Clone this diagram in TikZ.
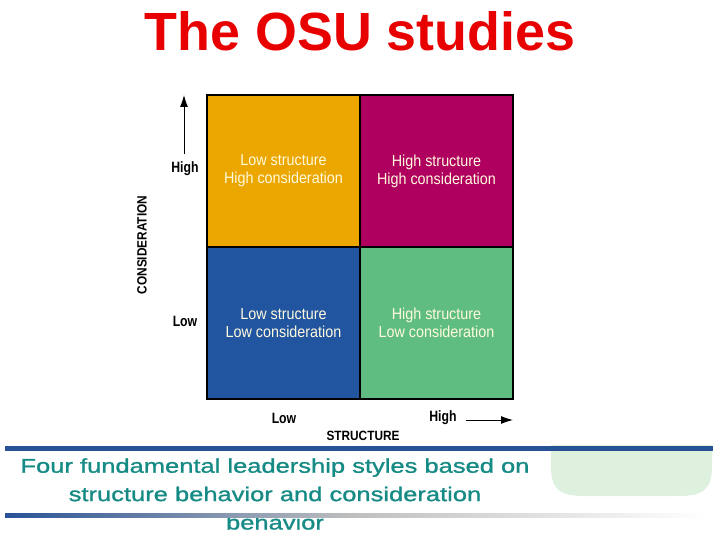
\documentclass[tikz,border=0pt]{standalone}
\usepackage{fontspec}
\setmainfont{Liberation Sans}
\newfontfamily\cellfont[FakeStretch=0.9]{Liberation Sans}
\newfontfamily\axisfont[FakeStretch=0.82]{Liberation Sans}
\newfontfamily\namefont[FakeStretch=0.88]{Liberation Sans}
\newfontfamily\capfont[FakeStretch=1.28,FakeBold=1.2]{Liberation Sans}
\usetikzlibrary{arrows.meta}
\definecolor{titlecol}{RGB}{232,0,0}
\definecolor{lscol}{RGB}{235,167,0}
\definecolor{hhcol}{RGB}{176,0,95}
\definecolor{llcol}{RGB}{34,85,160}
\definecolor{hlcol}{RGB}{96,189,129}
\definecolor{celltext}{RGB}{255,250,222}
\definecolor{bandcol}{RGB}{40,82,150}
\definecolor{blobcol}{RGB}{222,240,222}
\definecolor{capcol}{RGB}{22,138,132}

\begin{document}
\begin{tikzpicture}[
  x=1bp, y=-1bp,
  every node/.style={inner sep=0pt},
  quad/.style={draw=black, line width=2bp, minimum width=153bp, minimum height=152bp, align=center,
    text=celltext, font=\cellfont\fontsize{16}{18}\selectfont},
  lvl/.style={font=\axisfont\bfseries\fontsize{15}{18}\selectfont},
  axname/.style={font=\namefont\bfseries\fontsize{13.5}{15}\selectfont},
  arr/.style={-{Latex[length=12bp,width=8bp]}, line width=1bp}
]
\useasboundingbox (0,0) rectangle (720,540);

% ---------------- title ----------------
\node[anchor=base, text=titlecol, font=\bfseries\fontsize{54}{60}\selectfont] (title) at (360,51) {The OSU studies};

% ---------------- grid ----------------
\node[quad, fill=lscol] (lohi) at (283.5,171) {Low structure\\High consideration};
\node[quad, fill=hhcol] (hihi) at (436.5,171) {High structure\\High consideration};
\node[quad, fill=llcol] (lolo) at (283.5,323) {Low structure\\Low consideration};
\node[quad, fill=hlcol] (hilo) at (436.5,323) {High structure\\Low consideration};

% ---------------- axes ----------------
\node[lvl] (conhi) at (185,169) {High};
\node[lvl] (conlo) at (185,321) {Low};
\node[axname, rotate=90] (conname) at (142,245) {CONSIDERATION};
\coordinate (contip) at (184,95);
\draw[arr] ([yshift=8bp]conhi.north -| contip) -- (contip);

\node[lvl] (strlo) at (284,418) {Low};
\node[lvl] (strhi) at (443,418) {High};
\node[axname] (strname) at (363,436) {STRUCTURE};
\coordinate (strtip) at (513,420);
\draw[arr] ([xshift=9bp]strhi.east |- strtip) -- (strtip);

% ---------------- caption band ----------------
\fill[blobcol] (551,445) -- (551,466) .. controls (551,490) and (560,496) .. (585,496) -- (678,496)
  .. controls (703,496) and (712,490) .. (712,466) -- (712,445) -- cycle;
\draw[bandcol, line width=5bp] (5,448.5) -- (713,448.5);

\node[anchor=base, align=center, text=capcol, font=\capfont\fontsize{20}{28.5}\selectfont] (caption) at (275,529.5)
  {Four fundamental leadership styles based on\\structure behavior and consideration\\behavior};

\shade[left color=bandcol, right color=white, middle color=black!25] (5,513) rectangle (705,517);

\end{tikzpicture}
\end{document}
